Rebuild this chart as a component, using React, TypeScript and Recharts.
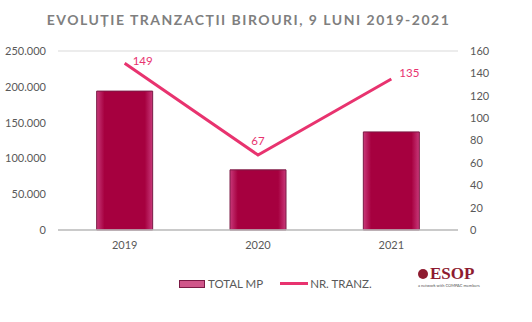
import { ComposedChart, Bar, Line, XAxis, YAxis, CartesianGrid, LabelList } from 'recharts'

const years = ['2019', '2020', '2021']
const totalMp = [194000, 84000, 137000]
const nrTranz = [149, 67, 135]
const leftTicks = [0, 50000, 100000, 150000, 200000, 250000]
const rightTicks = [0, 20, 40, 60, 80, 100, 120, 140, 160]

const data = years.map((y, i) => ({ year: y, total: totalMp[i], nr: nrTranz[i] }))

const FONT = 'Lato, "Open Sans", sans-serif'
const GRAY = '#595959'
const LINE = '#E8336F'

// label offsets for the line values (right, above, right)
const labelOffsets = [
  { dx: 18, dy: -3 },
  { dx: 0, dy: -15 },
  { dx: 18, dy: -6 },
]

const fmt = (v: number) => v.toLocaleString('de-DE')

function LineLabel(props: any) {
  const { x, y, value, index } = props
  const o = labelOffsets[index] || { dx: 0, dy: -10 }
  return (
    <text x={x + o.dx} y={y + o.dy} fill={LINE} fontSize={11.5} fontFamily={FONT} textAnchor="middle" dominantBaseline="central">
      {value}
    </text>
  )
}

export default function App() {
  return (
    <div style={{ position: 'absolute', left: 0, top: 0, width: 532, height: 322, background: '#fff', fontFamily: FONT }}>
      <div style={{ position: 'absolute', top: 11, left: 0, width: 497, textAlign: 'center', fontSize: 14, fontWeight: 700, color: '#7f7f7f', letterSpacing: 1.5 }}>
        EVOLUȚIE TRANZACȚII BIROURI, 9 LUNI 2019-2021
      </div>
      <ComposedChart width={532} height={322} data={data} margin={{ top: 51, right: 0, left: 0, bottom: 0 }} barCategoryGap="29%">
        <defs>
          <linearGradient id="barFill" x1="0" y1="0" x2="1" y2="0">
            <stop offset="0%" stopColor="#c8397a" />
            <stop offset="14%" stopColor="#a6003f" />
            <stop offset="86%" stopColor="#a6003f" />
            <stop offset="100%" stopColor="#c8397a" />
          </linearGradient>
        </defs>
        <CartesianGrid vertical={false} stroke="#d9d9d9" />
        <XAxis dataKey="year" height={92} tickLine={false} axisLine={{ stroke: '#bfbfbf', strokeWidth: 1.5 }} tick={{ fill: GRAY, fontSize: 11, fontFamily: FONT }} tickMargin={5} />
        <YAxis yAxisId="left" width={58} domain={[0, 250000]} ticks={leftTicks} tickFormatter={fmt} tickLine={false} axisLine={false} tick={{ fill: GRAY, fontSize: 11, fontFamily: FONT }} tickMargin={6} />
        <YAxis yAxisId="right" orientation="right" width={74} domain={[0, 160]} ticks={rightTicks} tickLine={false} axisLine={false} tick={{ fill: GRAY, fontSize: 11, fontFamily: FONT, textAnchor: 'start' }} tickMargin={6} />
        <Bar yAxisId="left" dataKey="total" fill="url(#barFill)" stroke="#7b1a45" strokeWidth={1} isAnimationActive={false} />
        <Line yAxisId="right" dataKey="nr" type="linear" stroke={LINE} strokeWidth={3} dot={false} isAnimationActive={false}>
          <LabelList dataKey="nr" content={<LineLabel />} />
        </Line>
      </ComposedChart>
      <div style={{ position: 'absolute', top: 277, left: 179, display: 'flex', alignItems: 'center', fontSize: 11.5, color: GRAY }}>
        <span style={{ display: 'inline-block', width: 24, height: 6, background: '#d0568a', border: '1px solid #7b1a45', marginRight: 3 }} />
        <span style={{ marginRight: 17 }}>TOTAL MP</span>
        <span style={{ display: 'inline-block', width: 28, height: 3, background: LINE, marginRight: 2 }} />
        <span>NR. TRANZ.</span>
      </div>
      <div style={{ position: 'absolute', top: 265, left: 418, width: 60 }}>
        <div style={{ display: 'flex', alignItems: 'center' }}>
          <span style={{ display: 'inline-block', width: 10, height: 10, borderRadius: 5, background: '#8e1b30', marginRight: 2 }} />
          <span style={{ fontFamily: '"Liberation Serif", serif', fontWeight: 700, fontSize: 17, color: '#8e1b30', lineHeight: '18px' }}>ESOP</span>
        </div>
        <div style={{ fontSize: 4, color: '#555', whiteSpace: 'nowrap', marginTop: 0 }}>a network with COMPAC members</div>
      </div>
    </div>
  )
}
